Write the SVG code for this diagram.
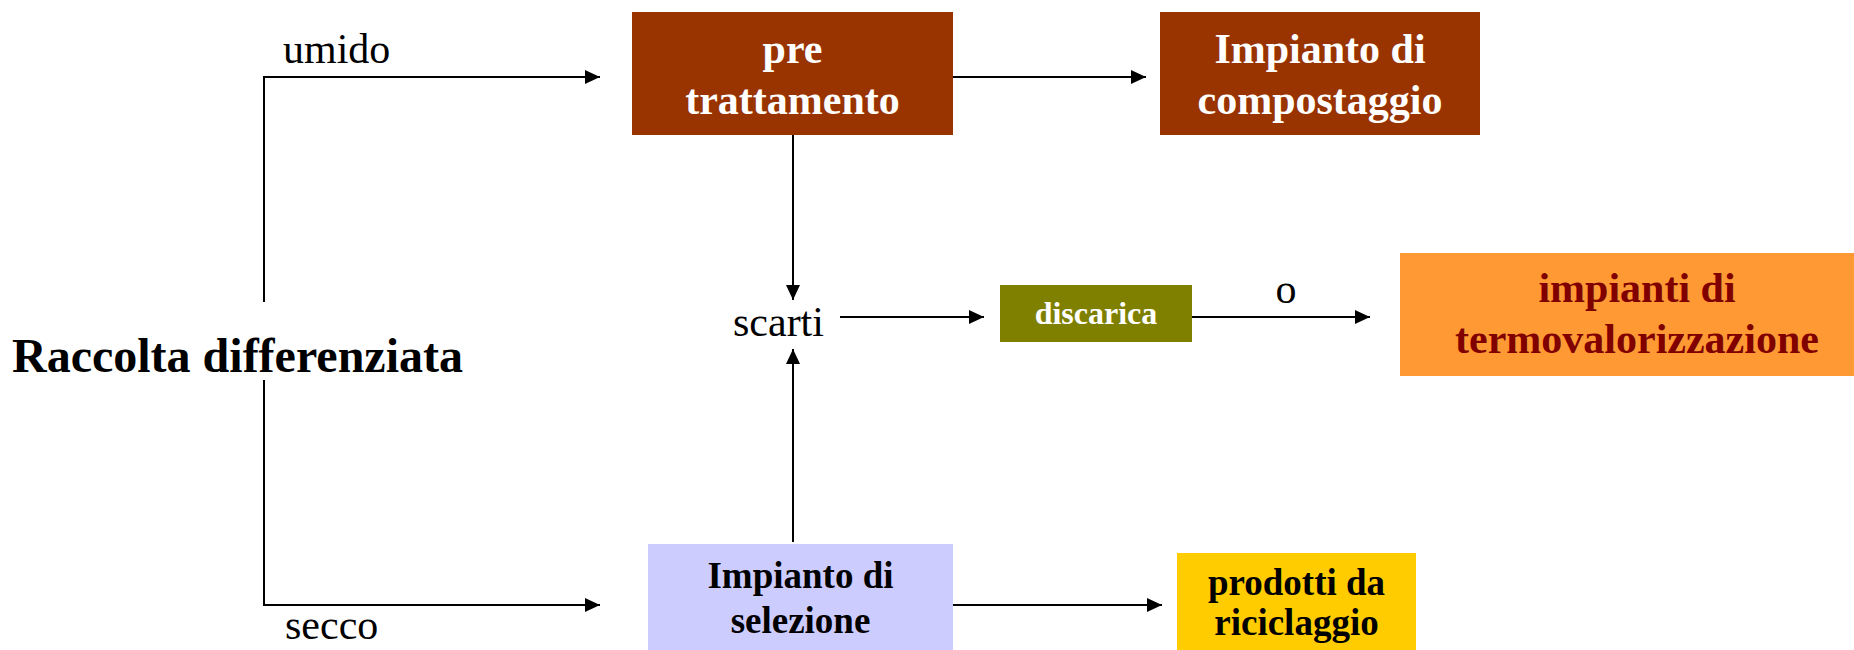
<svg xmlns="http://www.w3.org/2000/svg" width="1854" height="650" viewBox="0 0 1854 650">
<style>
text{font-family:"Liberation Serif","Times New Roman",serif}
.b{font-weight:bold;text-anchor:middle}
.w{fill:#ffffff}
.lbl{font-size:42px;fill:#000}
.c{stroke:#000;stroke-width:2;fill:none;marker-end:url(#ah)}
</style>
<defs>
<marker id="ah" markerUnits="userSpaceOnUse" markerWidth="16" markerHeight="14" refX="15" refY="7" orient="auto">
<path d="M0,0 L15,7 L0,14 Z" fill="#000"/>
</marker>
</defs>
<rect width="1854" height="650" fill="#fff"/>
<g id="connectors">
<path class="c" d="M264,302 V77 H600"/>
<path class="c" d="M264,380 V605 H600"/>
<path class="c" d="M953,77 H1146"/>
<path class="c" d="M793,135 V300"/>
<path class="c" d="M793,542 V349"/>
<path class="c" d="M840,317 H984"/>
<path class="c" d="M1192,317 H1370"/>
<path class="c" d="M953,605 H1162"/>
</g>
<g id="labels">
<text class="lbl" x="283" y="63">umido</text>
<text class="lbl" x="285" y="639">secco</text>
<text class="lbl" x="1286" y="303" text-anchor="middle">o</text>
</g>
<g id="raccolta">
<text x="12" y="372" font-size="48" font-weight="bold">Raccolta differenziata</text>
</g>
<g id="scarti">
<text class="lbl" x="733" y="336">scarti</text>
</g>
<g id="pretrattamento">
<rect x="632" y="12" width="321" height="123" fill="#993300"/>
<text class="b w" font-size="42" x="792.5" y="63">pre</text>
<text class="b w" font-size="42" x="792.5" y="114">trattamento</text>
</g>
<g id="compostaggio">
<rect x="1160" y="12" width="320" height="123" fill="#993300"/>
<text class="b w" font-size="42" x="1320" y="63">Impianto di</text>
<text class="b w" font-size="42" x="1320" y="114">compostaggio</text>
</g>
<g id="discarica">
<rect x="1000" y="285" width="192" height="57" fill="#808000"/>
<text class="b w" font-size="32" x="1096" y="324">discarica</text>
</g>
<g id="termovalorizzazione">
<rect x="1400" y="253" width="470" height="123" fill="#FF9933"/>
<text class="b" font-size="42" fill="#800000" x="1637" y="302">impianti di</text>
<text class="b" font-size="42" fill="#800000" x="1637" y="353">termovalorizzazione</text>
</g>
<g id="selezione">
<rect x="648" y="544" width="305" height="110" fill="#CCCCFF"/>
<text class="b" font-size="37" x="800.5" y="588">Impianto di</text>
<text class="b" font-size="37" x="800.5" y="633">selezione</text>
</g>
<g id="riciclaggio">
<rect x="1177" y="553" width="239" height="100" fill="#FFCC00"/>
<text class="b" font-size="37" x="1296.5" y="595">prodotti da</text>
<text class="b" font-size="37" x="1296.5" y="635">riciclaggio</text>
</g>
</svg>
